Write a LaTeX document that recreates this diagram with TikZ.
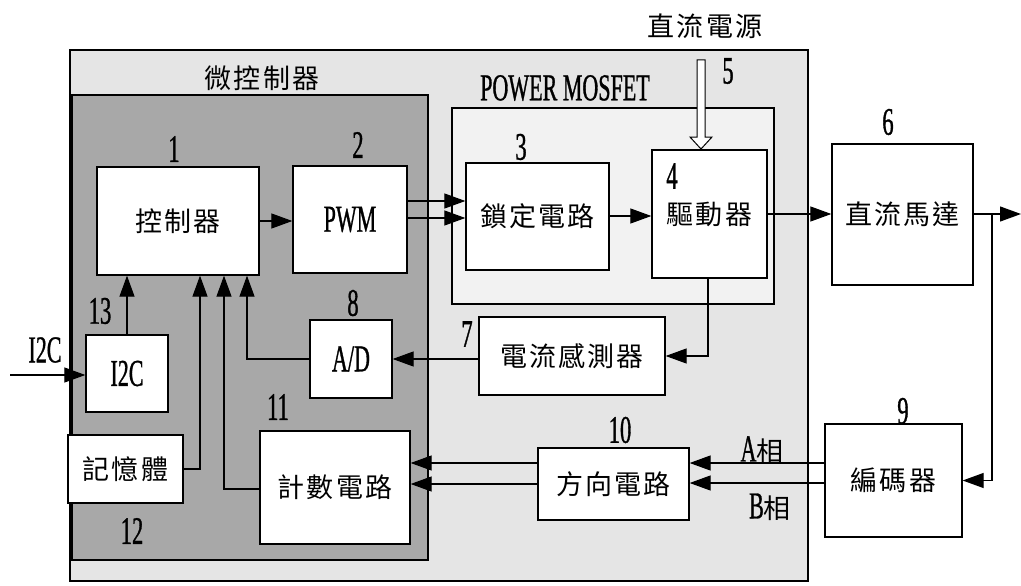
\documentclass[tikz,border=0pt]{standalone}
\usepackage{fontspec}
\setmainfont{Liberation Serif}[FakeStretch=0.58, FakeBold=0.8]
\newfontfamily\cjkfont{Noto Sans CJK TC}[LetterSpace=8]
\usetikzlibrary{arrows.meta}
\definecolor{bgout}{gray}{0.9}
\definecolor{bgmcu}{gray}{0.66}
\definecolor{bgmos}{gray}{0.95}
\tikzset{
  blk/.style={draw, line width=1.3pt, fill=white, inner sep=0pt},
  cj/.style={font=\cjkfont\fontsize{27}{30}\selectfont},
  lat/.style={font=\fontsize{38}{40}\selectfont, inner sep=0pt},
  numl/.style={font=\fontsize{39}{41}\selectfont, inner sep=0pt},
  ln/.style={line width=1.2pt},
  arr/.style={line width=1.2pt, -{Triangle[length=21pt,width=15pt]}},
  region/.style={draw, line width=1.3pt}
}
\begin{document}
\begin{tikzpicture}[x=1pt,y=-1pt]
\useasboundingbox[fill=white] (0,0) rectangle (1021,586);
% regions
\draw[region, fill=bgout] (70,50) rectangle (808,581);
\draw[region, fill=bgmcu] (72,95) rectangle (428,560);
\draw[region, fill=bgmos] (452,108) rectangle (774,304);
\node[cj, inner sep=0pt] (tmcu) at (262,78) {微控制器};
\node[lat] (tmos) at (565,88) {POWER MOSFET};
\node[cj, inner sep=0pt] (tdc) at (705,26) {直流電源};

% blocks
\node[blk, minimum width=162pt, minimum height=108pt, cj] (ctrl) at (178,221) {控制器};
\node[blk, minimum width=114pt, minimum height=107pt, lat] (pwm) at (350,219.5) {PWM};
\node[blk, minimum width=143pt, minimum height=107pt, cj] (lock) at (537.5,216.5) {鎖定電路};
\node[blk, minimum width=115pt, minimum height=128pt, cj] (drv) at (709.5,214) {驅動器};
\node[blk, minimum width=141pt, minimum height=141pt, cj] (motor) at (902.5,214.5) {直流馬達};
\node[blk, minimum width=186pt, minimum height=78pt, cj] (sensor) at (572,356) {電流感測器};
\node[blk, minimum width=82pt, minimum height=78pt, lat] (ad) at (351,359) {A/D};
\node[blk, minimum width=82pt, minimum height=77pt, lat] (i2c) at (127,373.5) {I2C};
\node[blk, minimum width=115pt, minimum height=68pt, cj] (mem) at (125.5,469) {記憶體};
\node[blk, minimum width=150pt, minimum height=113pt, cj] (cnt) at (335,487.5) {計數電路};
\node[blk, minimum width=151pt, minimum height=72pt, cj] (dir) at (613.5,484) {方向電路};
\node[blk, minimum width=137pt, minimum height=113pt, cj] (enc) at (893.5,480.5) {編碼器};

% numbers
\node[numl] (n1) at (174,149) {1};
\node[numl] (n2) at (358,145) {2};
\node[numl] (n3) at (521,147) {3};
\node[numl] (n4) at (672,176) {4};
\node[numl] (n5) at (728,71) {5};
\node[numl] (n6) at (888,122) {6};
\node[numl] (n7) at (467,334) {7};
\node[numl] (n8) at (353,303) {8};
\node[numl] (n9) at (903,411) {9};
\node[numl] (n10) at (620,430) {10};
\node[numl] (n11) at (278,407) {11};
\node[numl] (n12) at (132,531) {12};
\node[numl] (n13) at (100,311) {13};
\node[lat] (ei2c) at (45,350) {I2C};
\node[cj, inner sep=0pt] (pa) at (762,450) {\rmfamily\fontsize{38}{40}\selectfont A\cjkfont\fontsize{27}{30}\selectfont 相};
\node[cj, inner sep=0pt] (pb) at (770,507) {\rmfamily\fontsize{38}{40}\selectfont B\cjkfont\fontsize{27}{30}\selectfont 相};

% coordinates
\coordinate (out) at (1021,214);
\coordinate (br) at (992,214);
\coordinate (ein) at (10,375);

% connectors
\draw[arr] (ctrl.east) -- (pwm.west |- ctrl.east);
\draw[arr] (pwm.east |- 0,201) -- (lock.west |- 0,201);
\draw[arr] (pwm.east |- 0,218) -- (lock.west |- 0,218);
\draw[arr] (lock.east |- 0,216) -- (drv.west |- 0,216);
\draw[arr] (drv.east |- 0,214) -- (motor.west |- 0,214);
\draw[arr] (motor.east |- out) -- (out);
\draw[arr] (br) |- (enc.east);
\draw[arr] (drv.south -| 708,0) |- (sensor.east);
\draw[arr] (sensor.west |- 0,359) -- (ad.east |- 0,359);
\draw[arr] (ad.west) -| (ctrl.south -| 247,0);
\draw[arr] (i2c.north) -- (i2c.north |- ctrl.south);
\draw[arr] (mem.east) -| (ctrl.south -| 200,0);
\draw[arr] (cnt.west |- 0,489) -| (ctrl.south -| 224,0);
\draw[arr] (dir.west |- 0,463) -- (cnt.east |- 0,463);
\draw[arr] (dir.west |- 0,484) -- (cnt.east |- 0,484);
\draw[arr] (enc.west |- 0,463) -- (dir.east |- 0,463);
\draw[arr] (enc.west |- 0,483) -- (dir.east |- 0,483);
\draw[arr] (ein) -- (i2c.west |- ein);

% power input (hollow arrow)
\draw[line width=1pt, fill=white] (697,60) -- (705,60) -- (705,137) -- (712,137) -- (701,149) -- (690,137) -- (697,137) -- cycle;
\end{tikzpicture}
\end{document}
